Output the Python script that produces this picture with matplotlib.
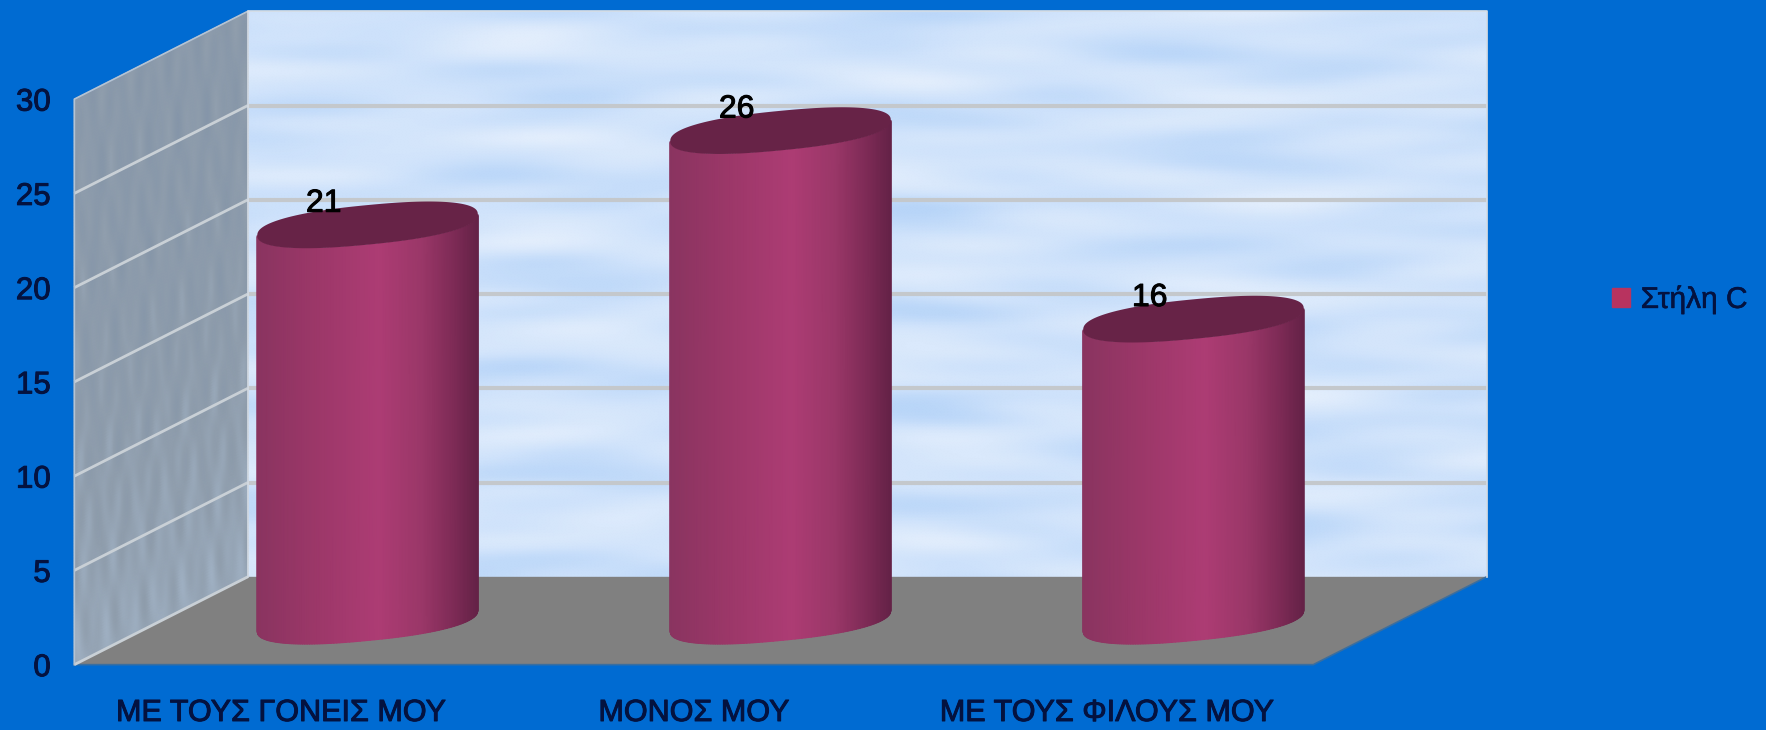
import numpy as np
import matplotlib
matplotlib.use('Agg')
import matplotlib.pyplot as plt
import matplotlib.patheffects as pe
from matplotlib.colors import LinearSegmentedColormap
from matplotlib.patches import Patch

plt.rcParams['font.family'] = ['Liberation Sans', 'DejaVu Sans']

categories = ['ΜΕ ΤΟΥΣ ΓΟΝΕΙΣ ΜΟΥ', 'ΜΟΝΟΣ ΜΟΥ', 'ΜΕ ΤΟΥΣ ΦΙΛΟΥΣ ΜΟΥ']
values = [21, 26, 16]
series_name = 'Στήλη C'
y_ticks = [0, 5, 10, 15, 20, 25, 30]

# depth of the fake 3d box, in data units (front plane is the axes itself)
DEPTH_X = 0.42
DEPTH_Y = 4.66
BAR_DEPTH = 0.5

bg = '#006bd2'
floor_col = '#808080'
text_col = '#04123f'


def oblique(x, v, d):
    return x + d * DEPTH_X, v + d * DEPTH_Y


def wall_mesh(ax, X, Y, C, cmap):
    m = ax.pcolormesh(X, Y, C, cmap=cmap, vmin=0, vmax=1, shading='gouraud', zorder=1)
    m.set_clip_on(False)


def thicken(txt, col, w=0.7):
    # the reference text is heavier than the regular weight, bold is too much
    txt.set_path_effects([pe.withStroke(linewidth=w, foreground=col)])


fig = plt.figure(figsize=(17.66, 7.30), dpi=100, facecolor=bg)
ax = fig.add_axes([66 / 1568, 58 / 648, 1100 / 1568, 502 / 648])
ax.set_facecolor('none')
ax.set_xlim(-0.5, 2.5)
ax.set_ylim(0, 30)
for s in ax.spines.values():
    s.set_visible(False)

# back wall, soft long horizontal clouds
cloud = LinearSegmentedColormap.from_list('cloud', ['#b8d5f8', '#d0e3fb', '#e3eefc'])
u, w = np.meshgrid(np.linspace(0, 1, 300), np.linspace(0, 1, 200))
tex = (0.5 + 0.26 * np.sin(37 * w + 1.2 * np.sin(6 * u)) * np.sin(11 * u + 2.1)
       + 0.16 * np.sin(71 * w + 1.5 * np.sin(9 * u + 1)) * np.sin(19 * u + 0.7)
       + 0.12 * np.sin(29 * w + 2) * np.sin(31 * u + 11 * w)
       + 0.06 * np.sin(131 * w) * np.sin(17 * u + 4))
X, Y = oblique(-0.5 + 3 * u, 30 * w, 1)
wall_mesh(ax, X, Y, np.clip(tex, 0, 1), cloud)

# left wall, grey with broad vertical streaks, lighter towards the floor
steel = LinearSegmentedColormap.from_list('steel', ['#7f91a6', '#8f9dac', '#a6b8cc'])
tex = (0.38 + 0.32 * (1 - w) ** 2
       + 0.1 * np.sin(41 * u + 2 * np.sin(9 * w)) * np.sin(19 * w + 1)
       + 0.08 * np.sin(73 * u + 6 * w) * np.sin(31 * w))
X, Y = oblique(-0.5, 30 * w, u)
wall_mesh(ax, X, Y, np.clip(tex, 0, 1), steel)

# floor
fx, fy = zip(*[oblique(-0.5, 0, 0), oblique(2.5, 0, 0), oblique(2.5, 0, 1), oblique(-0.5, 0, 1)])
ax.fill(fx, fy, color=floor_col, zorder=2, clip_on=False, lw=0)
ax.plot(fx[:3], fy[:3], color='#3a6e9f', lw=1.2, zorder=2, clip_on=False)

# grid lines on both walls
for t in y_ticks[1:-1]:
    x0, y0 = oblique(-0.5, t, 1)
    x1, y1 = oblique(2.5, t, 1)
    ax.plot([x0, x1], [y0, y1], color='#c4c8cc', lw=3, zorder=3, clip_on=False, solid_capstyle='butt')
for t in y_ticks[:-1]:
    x0, y0 = oblique(-0.5, t, 0)
    x1, y1 = oblique(-0.5, t, 1)
    ax.plot([x0, x1], [y0, y1], color='#c9d0d6', lw=2, zorder=3, clip_on=False, solid_capstyle='butt')

# box edges
bx, by = zip(*[oblique(-0.5, 0, 0), oblique(-0.5, 30, 0), oblique(-0.5, 30, 1)])
ax.plot(bx, by, color='#b4c3d4', lw=1.2, zorder=3, clip_on=False)
bx, by = zip(*[oblique(-0.5, 0, 1), oblique(-0.5, 30, 1), oblique(2.5, 30, 1), oblique(2.5, 0, 1)])
ax.plot(bx, by, color='#d5dce4', lw=1.2, zorder=3, clip_on=False)

# cylinders, the end caps are a bit squarer than a true ellipse
body = LinearSegmentedColormap.from_list('body', [
    (0, '#8a3460'), (0.25, '#9b3768'), (0.55, '#ad3c74'), (0.75, '#9a3768'),
    (0.9, '#7c2a55'), (1, '#652247')])
major = (0.267, 0.56)
minor = 1.05
P = 0.85


def cap(th):
    c = np.sign(np.cos(th)) * np.abs(np.cos(th)) ** P
    s = np.sign(np.sin(th)) * np.abs(np.sin(th)) ** P
    return c * major[0], c * major[1] + s * minor, c


theta = np.linspace(np.pi, 2 * np.pi, 120)
full = np.linspace(0, 2 * np.pi, 240)
for i, v in enumerate(values):
    cx, cy = oblique(i, 0, BAR_DEPTH)
    dx, low, c = cap(theta)
    m = ax.pcolormesh(np.vstack([cx + dx, cx + dx]), np.vstack([cy + low, cy + v + low]),
                      np.vstack([c, c]) / 2 + 0.5,
                      cmap=body, vmin=0, vmax=1, shading='gouraud', zorder=4)
    m.set_clip_on(False)
    dx, dy, _ = cap(full)
    ax.fill(cx + dx, cy + v + dy, color='#672347', lw=0, zorder=5, clip_on=False)
    lab = ax.text(i + 0.104, v + 3.45, str(v), ha='center', va='center', fontsize=23,
                  color='black', zorder=6, clip_on=False)
    thicken(lab, 'black')

ax.set_xticks(range(len(categories)))
ax.set_xticklabels(categories, fontsize=22, color=text_col)
ax.set_yticks(y_ticks)
ax.set_yticklabels([str(t) for t in y_ticks], fontsize=22.5, color=text_col)
ax.tick_params(axis='x', length=0, pad=24)
ax.tick_params(axis='y', length=0, pad=17)
for lab in ax.get_xticklabels() + ax.get_yticklabels():
    thicken(lab, text_col)

leg = fig.legend(handles=[Patch(color='#b8335f', label=series_name)], loc='center left',
                 bbox_to_anchor=(1431 / 1568, 1 - 266 / 648), frameon=False, fontsize=21.5,
                 labelcolor=text_col, handlelength=0.62, handleheight=0.62, handletextpad=0.35,
                 borderpad=0, borderaxespad=0)
for lab in leg.get_texts():
    thicken(lab, text_col, 0.4)

fig.savefig('out.png', dpi=100, facecolor=bg)
